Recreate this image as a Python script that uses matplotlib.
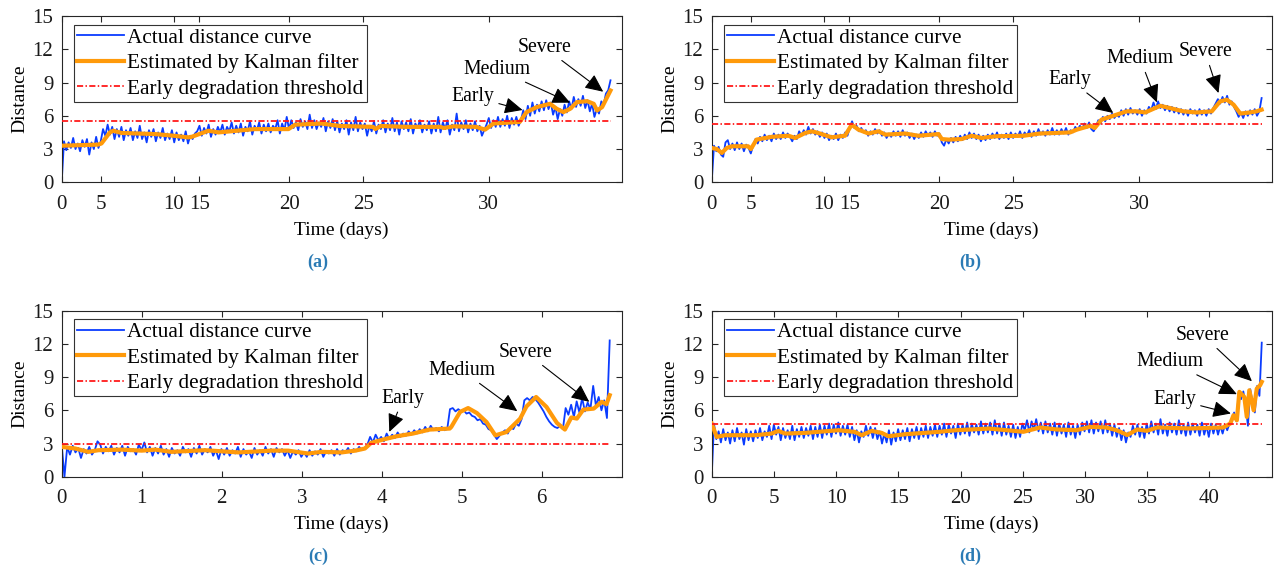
import numpy as np
import matplotlib
matplotlib.use('Agg')
import matplotlib.pyplot as plt

plt.rcParams['font.family'] = ['Liberation Serif', 'DejaVu Serif']

# ---- (a) ----  x is sample position (0..1000); day ticks sit at sample positions
a_day_ticks = [0, 69.6, 200.5, 245.6, 406.4, 538.6, 762.7]
a_day_labels = ['0', '5', '10', '15', '20', '25', '30']
a_end = 980
a_actual = [
    0.0, 3.7, 2.9, 3.6, 3.1, 4.0, 3.0, 3.5, 2.8, 3.8,
    3.2, 3.9, 2.5, 3.6, 3.0, 4.1, 3.1, 3.7, 4.8, 4.2,
    5.2, 4.3, 5.0, 3.9, 4.8, 4.1, 5.0, 3.8, 4.7, 4.2,
    4.9, 3.8, 4.6, 4.0, 5.1, 3.9, 4.5, 3.6, 4.7, 4.1,
    4.8, 3.7, 4.5, 4.0, 4.9, 3.8, 4.4, 3.9, 4.7, 3.6,
    4.5, 3.8, 4.3, 3.7, 4.6, 3.5, 4.2, 3.9, 4.4, 4.6,
    5.1, 4.2, 4.9, 4.4, 5.2, 4.1, 4.8, 4.3, 5.0, 4.5,
    5.2, 4.3, 5.0, 4.6, 5.4, 4.4, 5.1, 4.5, 5.3, 4.2,
    5.0, 4.6, 5.5, 4.3, 5.1, 4.7, 5.4, 4.4, 5.2, 4.6,
    5.3, 4.5, 5.1, 4.8, 5.6, 4.4, 5.3, 4.7, 5.9, 4.8,
    5.6, 4.9, 5.4, 4.7, 5.7, 5.0, 5.5, 4.8, 6.1, 4.9,
    5.6, 4.8, 5.4, 5.0, 5.8, 4.6, 5.5, 4.9, 5.7, 4.7,
    5.5, 4.5, 5.3, 4.8, 5.6, 4.3, 5.4, 4.7, 5.9, 4.6,
    5.4, 4.8, 5.3, 4.2, 5.1, 4.6, 5.5, 4.4, 5.2, 4.8,
    5.6, 4.5, 5.3, 4.7, 5.8, 4.6, 5.4, 4.3, 5.5, 4.8,
    5.4, 4.6, 5.7, 4.4, 5.3, 4.9, 5.6, 4.5, 5.2, 4.7,
    5.5, 4.4, 5.3, 4.6, 5.9, 4.5, 5.4, 4.8, 5.6, 4.3,
    5.2, 4.7, 6.2, 4.6, 5.4, 4.8, 5.6, 4.5, 5.3, 4.7,
    5.5, 4.6, 5.1, 4.2, 4.7, 5.2, 5.8, 4.9, 5.6, 5.0,
    5.9, 5.0, 5.7, 5.1, 6.0, 4.9, 5.8, 5.2, 5.9, 5.1,
    5.6, 6.5, 5.7, 6.9, 6.0, 7.2, 6.2, 7.0, 6.4, 7.3,
    6.5, 7.4, 6.6, 7.2, 6.1, 6.8, 5.7, 6.6, 6.0, 7.0,
    6.3, 7.3, 6.6, 7.7, 6.8, 7.5, 6.9, 7.8, 6.7, 7.4,
    6.4, 7.1, 5.9, 6.6, 6.2, 7.3, 7.0, 8.0, 8.3, 9.2,
]
a_kf_x = [0, 65, 71, 86, 92, 107, 167, 200, 226, 232, 262, 280, 345, 405, 417,
          464, 497, 556, 560, 570, 616, 676, 682, 700, 740, 756, 771, 818, 830,
          848, 860, 872, 884, 896, 908, 920, 938, 950, 956, 965, 974, 980]
a_kf_y = [3.3, 3.4, 3.5, 4.5, 4.65, 4.45, 4.35, 4.2, 4.05, 4.1, 4.65, 4.5, 4.8,
          4.8, 5.2, 5.3, 5.08, 5.0, 4.8, 5.08, 5.0, 5.0, 4.9, 5.05, 5.0, 4.75,
          5.3, 5.45, 6.33, 6.78, 6.93, 7.08, 6.63, 6.33, 6.63, 7.23, 7.32, 7.08,
          6.48, 6.78, 7.68, 8.28]
a_threshold = 5.5

# ---- (b) ----
b_day_ticks = [0, 69.6, 200.6, 245.7, 406.4, 538.6, 763.0]
b_day_labels = ['0', '5', '10', '15', '20', '25', '30']
b_end = 982
b_actual = [
    0.0, 3.3, 2.8, 3.2, 2.5, 2.3, 3.6, 3.8, 3.0, 3.5,
    2.9, 3.6, 3.0, 3.5, 2.8, 3.4, 3.1, 2.6, 3.3, 3.9,
    3.5, 4.1, 3.7, 4.3, 3.8, 4.2, 3.7, 4.4, 3.9, 4.3,
    3.9, 4.5, 4.0, 4.4, 4.1, 3.7, 4.2, 3.9, 4.6, 4.2,
    4.7, 4.3, 5.0, 4.4, 4.8, 4.3, 4.6, 4.1, 4.5, 4.0,
    4.4, 3.8, 4.2, 3.9, 4.4, 3.8, 4.3, 4.0, 4.5, 4.2,
    4.9, 5.5, 4.9, 5.1, 4.6, 4.9, 4.5, 4.7, 4.2, 4.6,
    4.3, 4.8, 4.4, 4.7, 4.2, 4.5, 4.0, 4.4, 4.1, 4.6,
    4.2, 4.6, 4.1, 4.7, 4.2, 4.5, 4.0, 4.4, 3.9, 4.3,
    4.0, 4.5, 4.1, 4.6, 4.2, 4.5, 4.1, 4.6, 4.2, 4.4,
    3.6, 3.3, 3.9, 3.5, 4.0, 3.6, 4.1, 3.7, 4.2, 3.8,
    4.3, 3.9, 4.5, 4.0, 4.4, 3.9, 4.3, 3.7, 4.2, 3.8,
    4.3, 3.9, 4.4, 4.0, 4.5, 3.9, 4.3, 4.0, 4.4, 3.9,
    4.5, 4.0, 4.4, 4.1, 4.6, 4.0, 4.5, 4.2, 4.7, 4.1,
    4.6, 4.2, 4.8, 4.3, 4.6, 4.2, 4.7, 4.3, 4.9, 4.3,
    4.7, 4.3, 4.8, 4.4, 4.9, 4.3, 4.7, 4.5, 5.0, 4.7,
    5.1, 4.8, 5.3, 4.9, 5.4, 4.8, 4.6, 5.0, 5.6, 5.3,
    5.9, 5.5, 6.0, 5.7, 6.2, 5.8, 6.1, 5.9, 6.5, 6.0,
    6.6, 6.1, 6.7, 6.2, 6.5, 6.1, 6.6, 6.0, 6.5, 6.2,
    6.8, 6.5, 7.2, 6.6, 7.3, 6.7, 7.0, 6.5, 6.9, 6.4,
    6.8, 6.3, 6.7, 6.2, 6.6, 6.1, 6.5, 6.0, 6.6, 6.2,
    6.5, 6.0, 6.6, 6.1, 6.5, 6.0, 6.6, 6.2, 6.7, 7.1,
    7.5, 7.1, 7.7, 7.2, 7.8, 7.0, 7.3, 6.8, 6.4, 5.9,
    6.3, 5.8, 6.4, 6.0, 6.5, 6.1, 6.6, 6.0, 6.4, 7.6,
]
b_kf_x = [0, 9, 18, 27, 36, 65, 70, 80, 107, 137, 149, 167, 179, 190, 214, 238,
          250, 262, 280, 298, 310, 345, 369, 405, 411, 423, 446, 464, 482, 506,
          557, 586, 640, 652, 676, 684, 696, 717, 741, 759, 774, 801, 818, 842,
          866, 893, 908, 920, 932, 944, 961, 973, 982]
b_kf_y = [3.1, 3.0, 2.65, 3.1, 3.25, 3.25, 3.0, 3.85, 4.1, 4.2, 4.0, 4.45, 4.6,
          4.45, 4.06, 4.2, 5.2, 4.75, 4.4, 4.6, 4.3, 4.4, 4.2, 4.35, 3.9, 3.85,
          3.9, 4.2, 4.0, 4.15, 4.2, 4.4, 4.5, 4.75, 5.1, 4.9, 5.65, 6.0, 6.4,
          6.4, 6.3, 6.9, 6.7, 6.4, 6.3, 6.4, 7.3, 7.45, 7.0, 6.2, 6.3, 6.4, 6.55]
b_threshold = 5.25

# ---- (c) ----  x in days
c_end = 6.85
c_actual = [
    2.9, 0.0, 2.7, 2.0, 2.8, 2.2, 2.6, 1.7, 2.5, 2.1,
    2.7, 2.0, 2.4, 3.2, 2.9, 2.1, 2.7, 2.3, 2.8, 2.0,
    2.6, 2.2, 2.8, 1.9, 2.7, 2.3, 2.5, 2.0, 2.9, 2.4,
    3.1, 2.2, 2.7, 1.9, 2.6, 2.1, 2.8, 2.0, 2.5, 1.8,
    2.6, 2.1, 2.4, 1.9, 2.7, 2.2, 2.5, 1.8, 2.6, 2.1,
    2.8, 2.0, 2.5, 2.2, 2.7, 1.9, 2.4, 1.6, 2.5, 2.0,
    2.6, 1.9, 2.4, 2.1, 2.7, 1.8, 2.5, 2.0, 2.3, 1.7,
    2.6, 2.0, 2.4, 1.9, 2.7, 2.1, 2.5, 1.8, 2.6, 2.2,
    2.5, 1.9, 2.4, 1.7, 2.3, 2.0, 2.4, 1.8, 2.2, 1.8,
    2.4, 1.9, 2.3, 2.0, 2.5, 1.8, 2.3, 2.1, 2.4, 1.9,
    2.5, 2.0, 2.4, 2.2, 2.6, 2.1, 2.5, 2.3, 2.7, 2.4,
    2.6, 2.9, 3.6, 3.1, 3.8, 3.3, 3.6, 3.2, 3.9, 3.4,
    3.8, 3.5, 4.0, 3.6, 3.9, 3.7, 4.1, 3.8, 4.2, 3.9,
    4.3, 4.0, 4.5, 4.1, 4.6, 4.2, 4.4, 4.1, 4.5, 4.2,
    4.3, 6.1, 6.2, 5.9, 6.1, 5.9, 6.0, 5.7, 5.8, 5.5,
    5.4, 5.1, 5.2, 4.8, 4.7, 4.3, 4.2, 3.8, 3.4, 3.7,
    4.0, 4.2, 3.9, 4.5, 4.3, 4.8, 4.6, 5.2, 6.9, 7.1,
    6.9, 7.2, 7.0, 6.7, 6.3, 5.9, 5.4, 5.0, 4.7, 4.5,
    4.4, 4.6, 4.3, 6.2, 5.6, 6.5, 5.4, 6.8, 5.8, 7.1,
    5.9, 6.7, 6.1, 8.2, 6.4, 7.2, 6.0, 6.9, 5.3, 12.3,
]
c_kf_x = [0, 0.17, 0.33, 0.46, 0.75, 1.0, 1.17, 1.37, 1.79, 2.21, 2.62, 2.83,
          3.08, 3.25, 3.5, 3.67, 3.79, 3.87, 4.04, 4.19, 4.39, 4.6, 4.85, 4.87,
          4.98, 5.08, 5.19, 5.31, 5.42, 5.56, 5.73, 5.81, 5.93, 6.06, 6.19,
          6.29, 6.37, 6.44, 6.52, 6.65, 6.75, 6.81, 6.85]
c_kf_y = [2.7, 2.55, 2.25, 2.4, 2.45, 2.36, 2.45, 2.25, 2.4, 2.2, 2.36, 2.36,
          2.1, 2.25, 2.2, 2.36, 2.55, 3.07, 3.4, 3.66, 3.9, 4.26, 4.35, 4.5,
          5.85, 6.2, 5.75, 4.94, 3.74, 4.04, 5.24, 6.35, 7.2, 6.3, 4.86, 4.26,
          5.35, 5.25, 6.06, 6.15, 6.76, 6.55, 7.36]
c_threshold = 2.95

# ---- (d) ----
d_end = 44.2
d_actual = [
    0.0, 4.8, 3.4, 4.1, 3.1, 4.3, 3.3, 4.0, 3.0, 4.2,
    3.2, 4.4, 3.4, 4.0, 2.9, 4.3, 3.3, 4.1, 3.2, 4.2,
    3.5, 4.4, 3.3, 4.1, 3.6, 4.6, 3.4, 4.7, 3.8, 4.5,
    3.3, 4.4, 3.5, 4.2, 3.4, 4.6, 3.3, 4.3, 3.6, 4.5,
    3.5, 4.4, 3.7, 4.6, 3.4, 4.5, 3.6, 4.7, 3.5, 4.6,
    3.8, 4.8, 3.6, 4.7, 3.9, 4.9, 3.7, 4.6, 3.8, 4.7,
    3.6, 4.5, 3.3, 4.2, 3.1, 4.1, 3.6, 4.6, 3.7, 4.5,
    3.5, 4.4, 3.4, 4.1, 3.0, 3.9, 3.1, 4.2, 2.9, 4.0,
    3.2, 4.3, 3.3, 4.2, 3.4, 4.4, 3.2, 4.3, 3.5, 4.5,
    3.4, 4.4, 3.6, 4.6, 3.5, 4.5, 3.7, 4.7, 3.6, 4.6,
    3.8, 4.8, 3.6, 4.7, 3.9, 4.6, 3.5, 4.8, 3.8, 4.7,
    3.9, 4.9, 3.7, 4.8, 4.0, 4.7, 3.8, 5.0, 3.9, 4.8,
    4.0, 4.9, 3.8, 5.1, 3.9, 4.8, 3.7, 4.9, 3.8, 4.6,
    3.6, 4.7, 3.5, 4.5, 3.6, 4.8, 4.2, 5.1, 4.0, 5.0,
    4.2, 5.2, 4.1, 4.9, 3.9, 5.0, 4.0, 4.8, 3.8, 4.9,
    3.7, 4.8, 3.9, 4.7, 3.6, 4.9, 3.8, 4.6, 3.5, 4.7,
    3.8, 4.9, 4.1, 5.0, 4.0, 5.1, 3.9, 4.9, 4.1, 5.0,
    3.9, 5.1, 4.0, 4.8, 3.7, 4.7, 3.6, 4.4, 3.3, 4.2,
    3.1, 4.0, 3.6, 4.6, 3.8, 4.7, 3.6, 4.5, 3.5, 4.8,
    3.9, 5.0, 4.0, 4.8, 3.8, 5.2, 3.9, 4.7, 3.7, 4.9,
    4.0, 4.8, 3.8, 5.1, 3.9, 4.7, 3.7, 4.9, 3.8, 4.8,
    4.0, 4.7, 3.7, 4.9, 3.8, 4.6, 3.6, 4.8, 3.9, 4.7,
    3.8, 4.6, 3.9, 4.7, 4.2, 4.8, 5.2, 5.8, 5.0, 7.6,
    7.0, 7.7, 6.4, 4.6, 7.9, 6.7, 5.8, 8.2, 7.3, 12.1,
]
d_kf_x = [0, 0.4, 1.07, 3.48, 4.82, 5.36, 5.9, 7.5, 10.18, 11.5, 12.05, 12.86,
          13.66, 14.2, 15.54, 18.2, 19.6, 22.3, 25.05, 26.4, 27.7, 29.3, 30.4,
          31.7, 32.55, 33.4, 34.2, 34.97, 35.8, 38.45, 41.1, 41.67, 41.93,
          42.2, 42.4, 42.8, 43.0, 43.2, 43.55, 43.8, 44.07, 44.2]
d_kf_y = [4.8, 3.6, 3.75, 3.75, 3.9, 4.14, 3.9, 3.96, 4.2, 4.05, 3.75, 4.14,
          3.96, 3.66, 3.84, 4.05, 4.2, 4.35, 4.06, 4.45, 4.27, 4.2, 4.5, 4.45,
          4.2, 3.77, 4.27, 4.15, 4.45, 4.36, 4.45, 4.8, 5.55, 5.1, 7.66, 7.2,
          5.4, 7.8, 6.0, 7.96, 8.26, 8.56]
d_threshold = 4.75

# stage labels: (text, arrow tip, text centre)
a_notes = [('Early', (823, 6.52), (735, 7.72)),
           ('Medium', (908, 7.18), (778, 10.19)),
           ('Severe', (967, 8.17), (862, 12.17))]
b_notes = [('Early', (717, 6.25), (639, 9.24)),
           ('Medium', (795, 7.2), (765, 11.14)),
           ('Severe', (905, 8.05), (881, 11.77))]
c_notes = [('Early', (4.095, 4.05), (4.27, 7.06)),
           ('Medium', (5.695, 5.92), (5.0, 9.61)),
           ('Severe', (6.595, 6.76), (5.80, 11.23))]
d_notes = [('Early', (41.72, 5.71), (37.24, 7.0)),
           ('Medium', (42.2, 7.45), (36.84, 10.36)),
           ('Severe', (43.41, 8.62), (39.47, 12.77))]

BLUE = '#0a3cff'
ORANGE = '#ff9a0a'
RED = '#ff1a1a'
AXC = '#262626'

fig = plt.figure(figsize=(12.78, 5.67), dpi=100)
W, H = 1278, 567


def panel(rect_px, actual, end, kf_x, kf_y, thr, xlim, ticks, labels, notes, tag, tag_x):
    l, t, r, b = rect_px
    ax = fig.add_axes([l / W, 1 - b / H, (r - l) / W, (b - t) / H])
    x = np.linspace(0, end, len(actual))
    ax.plot(x, actual, color=BLUE, lw=1.3, label='Actual distance curve', zorder=2)
    ax.plot(kf_x, kf_y, color=ORANGE, lw=3.0, label='Estimated by Kalman filter',
            zorder=3, solid_joinstyle='round')
    ax.plot([0, end], [thr, thr], color=RED, lw=1.3, dashes=(3.4, 1.3, 0.8, 1.3),
            label='Early degradation threshold', zorder=4)
    ax.set_xlim(*xlim)
    ax.set_ylim(0, 15)
    ax.set_yticks([0, 3, 6, 9, 12, 15])
    ax.set_xticks(ticks)
    ax.set_xticklabels(labels)
    ax.tick_params(direction='in', top=True, right=True, length=4.5, width=0.8,
                   colors=AXC, labelsize=15, labelcolor='#1a1a1a')
    ax.tick_params(axis='x', pad=9)
    ax.tick_params(axis='y', pad=6)
    for s in ax.spines.values():
        s.set_color(AXC)
        s.set_linewidth(0.8)
    ax.set_xlabel('Time (days)', fontsize=14)
    ax.set_ylabel('Distance', fontsize=14)
    ax.xaxis.set_label_coords(0.5, -0.235)
    ax.yaxis.set_label_coords(-0.060, 0.5)
    leg = ax.legend(loc='upper left', bbox_to_anchor=(0.022, 0.948), borderaxespad=0,
                    fontsize=15.3, frameon=True, fancybox=False, framealpha=1,
                    edgecolor='#333333', handlelength=2.2, handletextpad=0.15,
                    labelspacing=0.26, borderpad=0.15)
    leg.get_frame().set_linewidth(0.8)
    for txt, tip, pos in notes:
        ax.annotate(txt, xy=tip, xytext=pos, fontsize=14.2, ha='center', va='center',
                    arrowprops=dict(arrowstyle='-|>,head_length=0.65,head_width=0.3',
                                    color='black', lw=0.8, shrinkA=1, shrinkB=0,
                                    mutation_scale=17), zorder=6)
    fig.text(tag_x / W, 1 - (t + 246) / H, tag, ha='center', va='center',
             fontsize=13, fontweight='bold', color='#2b7bb5')
    return ax


panel((61.7, 16, 621.7, 182.3), a_actual, a_end, a_kf_x, a_kf_y, a_threshold,
      (0, 1000), a_day_ticks, a_day_labels, a_notes, '(a)', 318)
panel((711.7, 16, 1271.7, 182.3), b_actual, b_end, b_kf_x, b_kf_y, b_threshold,
      (0, 1000), b_day_ticks, b_day_labels, b_notes, '(b)', 970)
panel((61.7, 310.5, 621.7, 476.8), c_actual, c_end, c_kf_x, c_kf_y, c_threshold,
      (0, 7.0), [0, 1, 2, 3, 4, 5, 6], ['0', '1', '2', '3', '4', '5', '6'],
      c_notes, '(c)', 318)
panel((711.7, 310.5, 1271.7, 476.8), d_actual, d_end, d_kf_x, d_kf_y, d_threshold,
      (0, 45), [0, 5, 10, 15, 20, 25, 30, 35, 40],
      ['0', '5', '10', '15', '20', '25', '30', '35', '40'], d_notes, '(d)', 970)

fig.savefig('out.png', dpi=100)
